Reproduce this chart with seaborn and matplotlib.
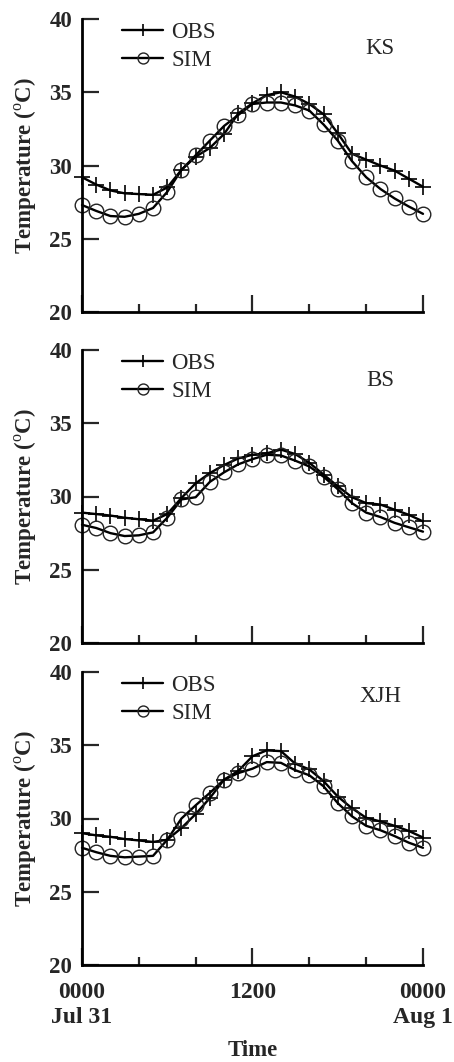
import numpy as np
import pandas as pd
import matplotlib
matplotlib.use("Agg")
import matplotlib.pyplot as plt
import seaborn as sns

# hourly values, Jul 31 0000 -> Aug 1 0000
hours = list(range(25))

ks_obs = [29.2, 28.7, 28.3, 28.1, 28.05, 28.0, 28.5, 29.7, 30.6, 31.2, 32.15, 33.55, 34.25,
          34.8, 35.0, 34.7, 34.2, 33.5, 32.2, 30.8, 30.4, 30.0, 29.65, 29.1, 28.55]
ks_sim = [27.3, 26.9, 26.55, 26.5, 26.7, 27.1, 28.2, 29.7, 30.7, 31.7, 32.7, 33.45, 34.2,
          34.3, 34.3, 34.1, 33.75, 32.8, 31.7, 30.3, 29.2, 28.4, 27.75, 27.2, 26.7]

bs_obs = [28.9, 28.8, 28.7, 28.55, 28.45, 28.35, 28.8, 29.9, 30.9, 31.6, 32.15, 32.6, 32.85,
          32.95, 33.2, 32.9, 32.3, 31.5, 30.7, 29.95, 29.55, 29.45, 29.1, 28.75, 28.3]
bs_sim = [28.07, 27.85, 27.5, 27.3, 27.35, 27.55, 28.55, 29.8, 29.95, 31.0, 31.65, 32.2, 32.55,
          32.85, 32.8, 32.45, 32.05, 31.35, 30.5, 29.55, 28.9, 28.6, 28.2, 27.9, 27.6]

xjh_obs = [29.0, 28.85, 28.75, 28.6, 28.5, 28.4, 28.55, 29.35, 30.3, 31.4, 32.65, 33.25, 34.25,
           34.65, 34.6, 33.75, 33.35, 32.55, 31.5, 30.7, 30.05, 29.8, 29.5, 29.15, 28.7]
xjh_sim = [28.0, 27.7, 27.45, 27.35, 27.4, 27.45, 28.55, 30.0, 30.9, 31.75, 32.65, 33.1, 33.4,
           33.85, 33.8, 33.3, 32.95, 32.2, 31.05, 30.15, 29.5, 29.2, 28.8, 28.35, 28.0]

sites = ["KS", "BS", "XJH"]
obs_all = [ks_obs, bs_obs, xjh_obs]
sim_all = [ks_sim, bs_sim, xjh_sim]

x_ticks = [0, 12, 24]
x_ticklabels = ["0000\nJul 31", "1200", "0000\nAug 1"]
y_ticks = [20, 25, 30, 35, 40]

sns.set_style("ticks")
plt.rcParams["font.family"] = ["Liberation Serif", "DejaVu Serif"]
plt.rcParams["mathtext.fontset"] = "custom"
plt.rcParams["mathtext.rm"] = "Liberation Serif"

fig = plt.figure(figsize=(4.54, 10.62), dpi=100)

left, width, height = 82 / 454, 341 / 454, 293 / 1062
bottoms = [1 - 312 / 1062, 1 - 643 / 1062, 1 - 965 / 1062]
site_y = [0.90, 0.895, 0.915]

for i, site in enumerate(sites):
    ax = fig.add_axes([left, bottoms[i], width, height])
    df = pd.DataFrame({"hour": hours, "OBS": obs_all[i], "SIM": sim_all[i]})

    sns.lineplot(data=df, x="hour", y="OBS", ax=ax, color="black", lw=1.7,
                 marker="+", markersize=12, markeredgecolor="black",
                 markeredgewidth=1.2, label="OBS", clip_on=False)
    sns.lineplot(data=df, x="hour", y="SIM", ax=ax, color="black", lw=1.7,
                 marker="o", markersize=10.5, markerfacecolor="none",
                 markeredgecolor="#222222", markeredgewidth=1.0, label="SIM",
                 clip_on=False)

    ax.set_xlim(0, 24)
    ax.set_ylim(20, 40)
    ax.set_yticks(y_ticks)
    ax.set_yticklabels([str(v) for v in y_ticks], fontweight="bold", fontsize=16.5)
    ax.set_xticks(x_ticks)
    ax.set_xticks([4, 8, 16, 20], minor=True)
    if i == 2:
        ax.set_xticklabels(x_ticklabels, fontweight="bold", fontsize=17, linespacing=1.25)
        ax.set_xlabel("Time", fontweight="bold", fontsize=16.5, labelpad=9)
    else:
        ax.set_xticklabels([])
        ax.set_xlabel("")

    ax.tick_params(axis="y", direction="in", length=12, width=1.6, pad=7)
    ax.tick_params(axis="x", which="major", direction="in", length=12, width=1.6, pad=12)
    ax.tick_params(axis="x", which="minor", direction="in", length=6, width=1.6)

    sns.despine(ax=ax)
    for s in ["left", "bottom"]:
        ax.spines[s].set_linewidth(2)
        ax.spines[s].set_color("black")

    ax.set_ylabel(r"Temperature ($^{\mathrm{o}}$C)", fontweight="bold", fontsize=16.5)
    ax.yaxis.set_label_coords(-0.125, 0.5)

    ax.text(0.874, site_y[i], site, transform=ax.transAxes, ha="center", va="center",
            fontsize=16.5)

    leg = ax.legend(loc="upper left", bbox_to_anchor=(0.07, 1.045), frameon=False,
                    fontsize=16.5, handlelength=1.8, handletextpad=0.35,
                    labelspacing=0.3, borderpad=0.2, markerscale=0.75)

fig.savefig("out.png", dpi=100)
